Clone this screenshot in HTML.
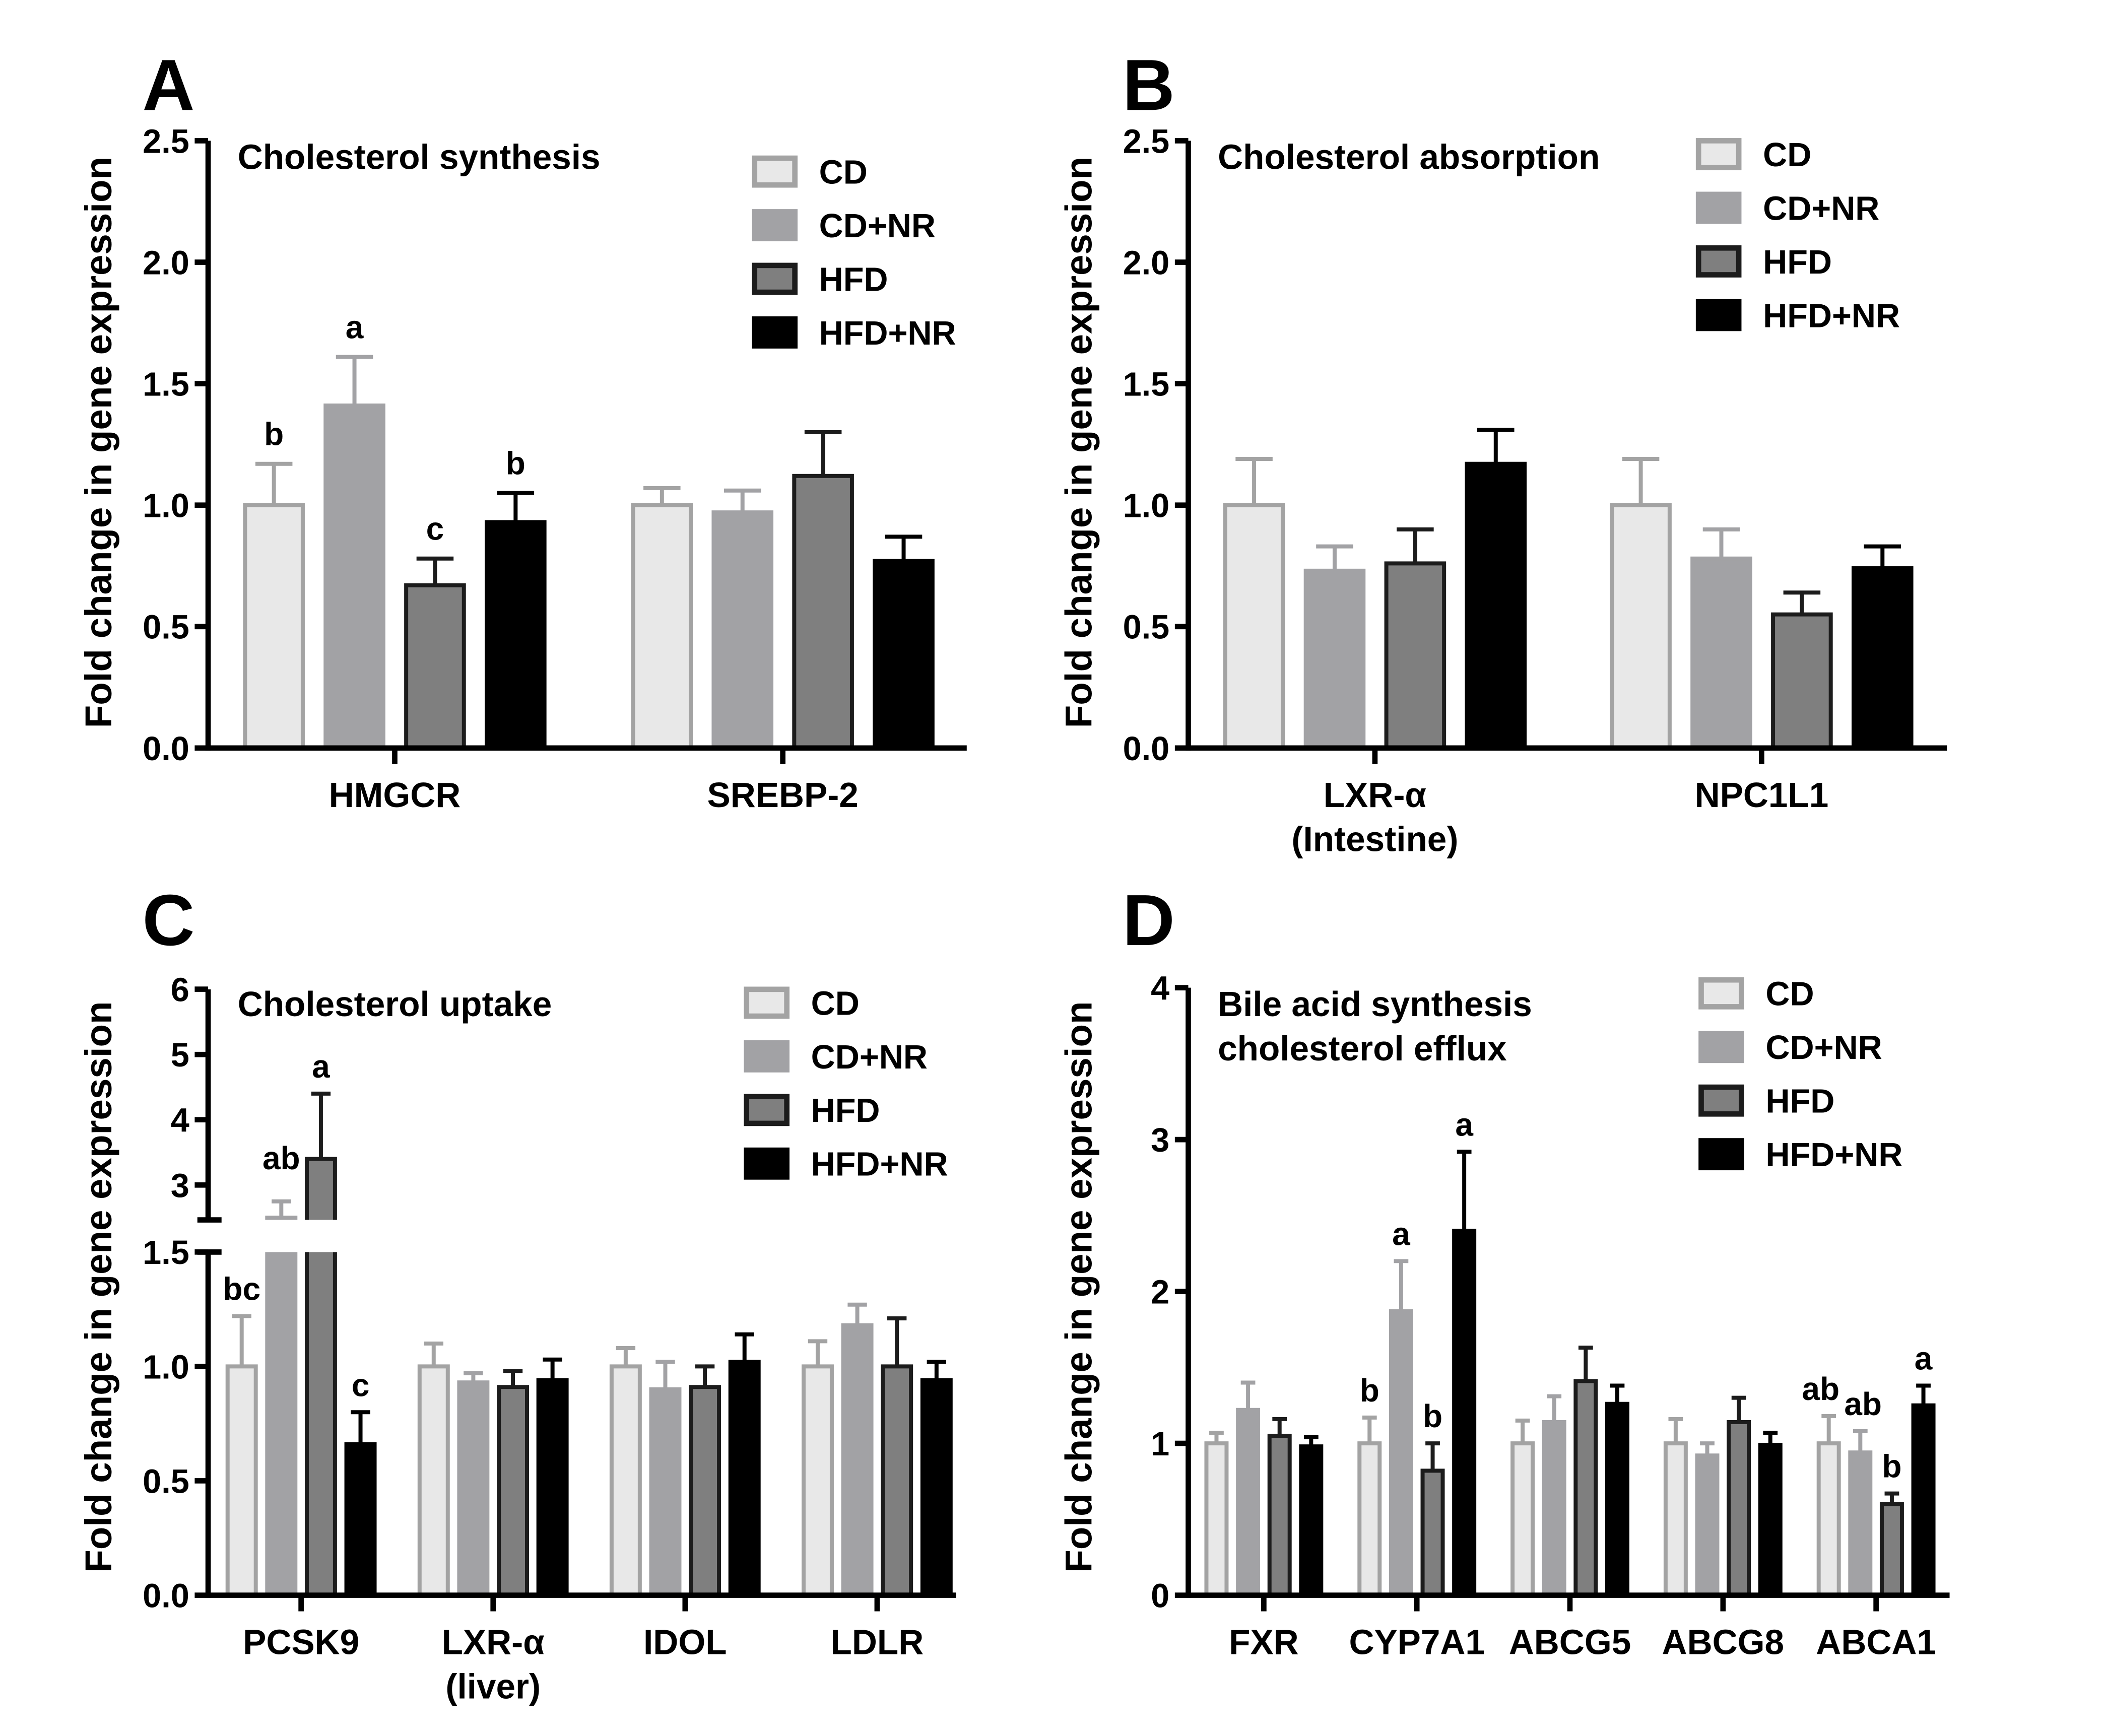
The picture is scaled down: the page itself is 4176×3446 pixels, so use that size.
<!DOCTYPE html>
<html><head><meta charset="utf-8"><style>
html,body{margin:0;padding:0;background:#fff}
svg{display:block}
text{font-family:"Liberation Sans",Arial,sans-serif;font-weight:bold;fill:#000}
</style></head><body>
<svg id="fig" width="4176" height="3446" viewBox="0 0 1567 1295" preserveAspectRatio="none" xmlns="http://www.w3.org/2000/svg"></svg>
<script>
const groupsLegend = ["CD","CD+NR","HFD","HFD+NR"];
const catsA = ["HMGCR","SREBP-2"];
const meanA = [[1.0,1.41,0.67,0.93],[1.0,0.97,1.12,0.77]];
const errA  = [[1.17,1.61,0.78,1.05],[1.07,1.06,1.30,0.87]];
const letA  = [["b","a","c","b"],["","","",""]];
const catsB = ["LXR-α|(Intestine)","NPC1L1"];
const meanB = [[1.0,0.73,0.76,1.17],[1.0,0.78,0.55,0.74]];
const errB  = [[1.19,0.83,0.90,1.31],[1.19,0.90,0.64,0.83]];
const catsC = ["PCSK9","LXR-α|(liver)","IDOL","LDLR"];
const meanC = [[1.0,2.5,3.4,0.66],[1.0,0.93,0.91,0.94],[1.0,0.90,0.91,1.02],[1.0,1.18,1.0,0.94]];
const errC  = [[1.22,2.75,4.4,0.80],[1.10,0.97,0.98,1.03],[1.08,1.02,1.0,1.14],[1.11,1.27,1.21,1.02]];
const letC  = [["bc","ab","a","c"],["","","",""],["","","",""],["","","",""]];
const catsD = ["FXR","CYP7A1","ABCG5","ABCG8","ABCA1"];
const meanD = [[1.0,1.22,1.05,0.98],[1.0,1.87,0.82,2.4],[1.0,1.14,1.41,1.26],[1.0,0.92,1.14,0.99],[1.0,0.94,0.60,1.25]];
const errD  = [[1.07,1.40,1.16,1.04],[1.17,2.20,1.0,2.92],[1.15,1.31,1.63,1.38],[1.16,1.0,1.30,1.07],[1.18,1.08,0.67,1.38]];
const letD  = [["","","",""],["b","a","b","a"],["","","",""],["","","",""],["ab","ab","b","a"]];
const ticksAB = ["0.0","0.5","1.0","1.5","2.0","2.5"];
const ticksCLow = ["0.0","0.5","1.0","1.5"];
const ticksCHigh = ["3","4","5","6"];
const ticksD = ["0","1","2","3","4"];

const fills=["#e8e8e8","#a2a2a5","#7f7f7f","#000"];
const strokes=["#a3a3a3","#a2a2a5","#1c1c1c","#000"];
const svg=document.getElementById('fig');
const NS="http://www.w3.org/2000/svg";
function el(tag,attrs,parent,txt){const e=document.createElementNS(NS,tag);for(const k in attrs)e.setAttribute(k,attrs[k]);if(txt!==undefined)e.textContent=txt;(parent||svg).appendChild(e);return e;}
function grp(name){const g=el('g',{});


return g;}

function panel(o){
  const g=grp(o.name);
  const t=el('text',{x:o.letterX,y:o.letterY,'font-size':54},g,o.letter);
  
  
  const yl=el('text',{transform:`translate(${o.ax-72},${o.ylCy}) rotate(-90)`,'text-anchor':'middle','font-size':28},g,"Fold  change in gene expression");
  
  
  o.title.forEach((s,i)=>{const tt=el('text',{x:o.ax+22,y:o.titleY+i*33,'font-size':26},g,s);
    
    });
  o.cats.forEach((c,ci)=>{
    for(let k=0;k<4;k++){
      const cx=o.x0+ci*o.gstep+k*o.bstep;
      const v=o.mean[ci][k], e=o.err[ci][k];
      const yt=o.y(v), yb=o.y(0), ye=o.y(e);
      el('line',{x1:cx,x2:cx,y1:yt,y2:ye,stroke:strokes[k],'stroke-width':3},g);
      el('line',{x1:cx-o.bw*0.3,x2:cx+o.bw*0.3,y1:ye,y2:ye,stroke:strokes[k],'stroke-width':3},g);
      const r=el('rect',{x:cx-o.bw/2+1.5,y:yt,width:o.bw-3,height:yb-yt,fill:fills[k],stroke:strokes[k],'stroke-width':3},g);
      
      
      const L=o.lets?o.lets[ci][k]:"";
      if(L){const lt=el('text',{x:cx+(o.letDx?o.letDx[ci][k]:0),y:Math.min(ye,o.y(v))-(o.letUp||14)+(o.letDy?o.letDy[ci][k]:0),'text-anchor':'middle','font-size':24},g,L);
        
        }
    }
    const gx=o.x0+ci*o.gstep+1.5*o.bstep;
    el('line',{x1:gx,x2:gx,y1:o.y(0),y2:o.y(0)+12,stroke:'#000','stroke-width':4},g);
    c.split('|').forEach((s,li)=>{const xl=el('text',{x:gx,y:o.y(0)+44+li*33,'text-anchor':'middle','font-size':26},g,s);
      
      });
  });
  if(o.breakFn)o.breakFn(g);
  el('line',{x1:o.ax,x2:o.axEnd,y1:o.y(0),y2:o.y(0),stroke:'#000','stroke-width':4},g);
  o.axisFn(g);
  groupsLegend.forEach((s,k)=>{
    const ly=o.legY+k*40;
    el('rect',{x:o.legX+2,y:ly-10,width:30,height:20,fill:fills[k],stroke:strokes[k],'stroke-width':4},g);
    const lt=el('text',{x:o.legX+50,y:ly+9,'font-size':25},g,s);
    
    
  });
}
function simpleAxis(g,ax,y,ticks,vals,top){
  el('line',{x1:ax,x2:ax,y1:y(top),y2:y(0)+2,stroke:'#000','stroke-width':4},g);
  ticks.forEach((t,i)=>{const yy=y(vals[i]);
    el('line',{x1:ax-10,x2:ax,y1:yy,y2:yy,stroke:'#000','stroke-width':4},g);
    const tl=el('text',{x:ax-14,y:yy+9,'text-anchor':'end','font-size':25},g,t);
    
    });
}
const yA=v=>558-v*181.2;
panel({name:'panel-a',letter:'A',letterX:106,letterY:82,ax:155,axEnd:720,ylCy:330,title:["Cholesterol synthesis"],titleY:126,
 cats:catsA,mean:meanA,err:errA,lets:letA,x0:204,gstep:289,bstep:60,bw:46,y:yA,legX:560,legY:128,
 axisFn:g=>simpleAxis(g,155,yA,ticksAB,ticksAB.map(Number),2.5)});
const yB=v=>558-v*181.2;
panel({name:'panel-b',letter:'B',letterX:836,letterY:82,ax:885,axEnd:1450,ylCy:330,title:["Cholesterol absorption"],titleY:126,
 cats:catsB,mean:meanB,err:errB,x0:934,gstep:288,bstep:60,bw:46,y:yB,legX:1263,legY:115,
 axisFn:g=>simpleAxis(g,885,yB,ticksAB,ticksAB.map(Number),2.5)});
const yC=v=>v<=1.5?1190-v*170.7:(v<2.5?934-(v-1.5)*30:884-(v-3)*48.7);
panel({name:'panel-c',letter:'C',letterX:106,letterY:705,ax:155,axEnd:712,ylCy:960,title:["Cholesterol uptake"],titleY:758,
 cats:catsC,mean:meanC,err:errC,lets:letC,x0:180,gstep:143,bstep:29.5,bw:24,y:yC,legX:554,legY:748,
 letDx:[[0,0,0,0]],letDy:[[0,-12,0,0]],letUp:12,
 breakFn:g=>{el('rect',{x:150,y:910,width:120,height:24,fill:'#fff'},g);},
 axisFn:g=>{
   el('line',{x1:155,x2:155,y1:738,y2:910,stroke:'#000','stroke-width':4},g);
   el('line',{x1:155,x2:155,y1:934,y2:1192,stroke:'#000','stroke-width':4},g);
   el('line',{x1:147,x2:165,y1:910,y2:910,stroke:'#000','stroke-width':4},g);
   el('line',{x1:147,x2:165,y1:934,y2:934,stroke:'#000','stroke-width':4},g);
   ticksCLow.forEach(t=>{const yy=yC(+t);el('line',{x1:145,x2:155,y1:yy,y2:yy,stroke:'#000','stroke-width':4},g);
     const tl=el('text',{x:141,y:yy+9,'text-anchor':'end','font-size':25},g,t);
     
     });
   ticksCHigh.forEach(t=>{const yy=yC(+t);el('line',{x1:145,x2:155,y1:yy,y2:yy,stroke:'#000','stroke-width':4},g);
     const tl=el('text',{x:141,y:yy+9,'text-anchor':'end','font-size':25},g,t);
     
     });
 }});
const yD=v=>1190-v*113.3;
panel({name:'panel-d',letter:'D',letterX:836,letterY:705,ax:885,axEnd:1452,ylCy:960,title:["Bile acid synthesis","cholesterol efflux"],titleY:758,
 cats:catsD,mean:meanD,err:errD,lets:letD,x0:906,gstep:114,bstep:23.5,bw:18,y:yD,legX:1265,legY:741,letUp:12,
 letDx:[[0,0,0,0],[0,0,0,0],[0,0,0,0],[0,0,0,0],[-6,2,0,0]],letDy:[[0,0,0,0],[0,0,0,0],[0,0,0,0],[0,0,0,0],[0,0,0,0]],
 axisFn:g=>simpleAxis(g,885,yD,ticksD,ticksD.map(Number),4)});
</script>
</body></html>
